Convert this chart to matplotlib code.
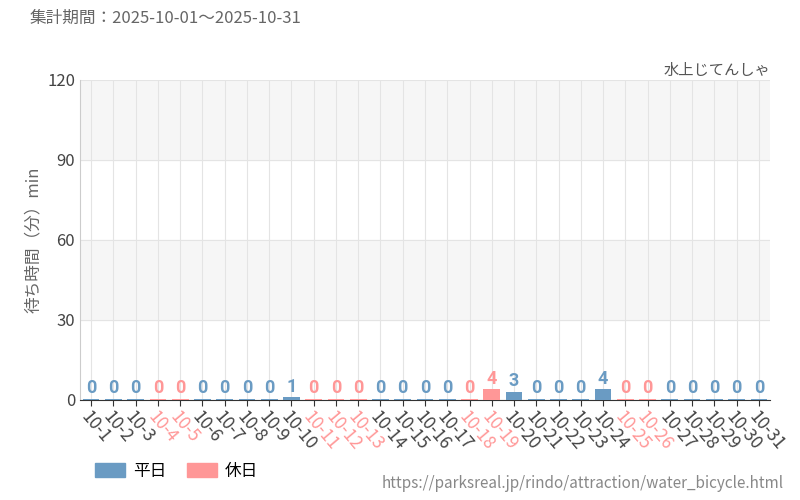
import matplotlib.pyplot as plt
from matplotlib.patches import Patch

plt.rcParams['font.family'] = ['Noto Sans CJK JP', 'DejaVu Sans']

days = [f"10-{d}" for d in range(1, 32)]
waits = [0] * 31
waits[9] = 1
waits[18] = 4
waits[19] = 3
waits[23] = 4
holidays = [4, 5, 11, 12, 13, 18, 19, 25, 26]

blue = '#6a9bc3'
pink = '#ff9797'
colors = [pink if i + 1 in holidays else blue for i in range(31)]

fig = plt.figure(figsize=(8, 5), dpi=100)
ax = fig.add_axes([0.1, 0.2, 0.8625, 0.64])

for lo in (30, 90):
    ax.axhspan(lo, lo + 30, color='#f6f6f6', zorder=0)

heights = [max(v, 0.4) for v in waits]
ax.bar(range(31), heights, width=0.75, color=colors, zorder=3)
for i, v in enumerate(waits):
    ax.text(i, heights[i] + 0.6, str(v), ha='center', va='bottom', color=colors[i],
            fontsize=13, fontweight='bold',
            fontfamily=['Liberation Sans Narrow', 'Roboto', 'DejaVu Sans'], zorder=4)

ax.set_xlim(-0.5, 30.5)
ax.set_ylim(0, 120)
ax.set_yticks([0, 30, 60, 90, 120])
ax.set_xticks(range(31))
ax.set_xticklabels(days, rotation=-50, ha='left', rotation_mode='anchor', fontsize=12.5)
for lbl, c in zip(ax.get_xticklabels(), colors):
    lbl.set_color('#444444' if c == blue else pink)
ax.tick_params(axis='y', labelsize=12, colors='#444444', length=0)
ax.tick_params(axis='x', length=4, color='#333333', pad=2)
ax.grid(True, color='#e4e4e4', linewidth=0.8, zorder=1)
for s in ('top', 'right'):
    ax.spines[s].set_visible(False)
ax.spines['left'].set_color('#cccccc')
ax.spines['bottom'].set_color('#333333')
ax.set_ylabel('待ち時間（分）min', fontsize=12, color='#666666')

fig.text(0.0375, 0.955, '集計期間：2025-10-01～2025-10-31', fontsize=12, color='#666666')
fig.text(0.9625, 0.85, '水上じてんしゃ', fontsize=11, color='#555555', ha='right')
fig.text(0.98, 0.025, 'https://parksreal.jp/rindo/attraction/water_bicycle.html',
         fontsize=11, color='#888888', ha='right')
fig.legend(handles=[Patch(color=blue, label='平日'), Patch(color=pink, label='休日')],
           loc='lower left', bbox_to_anchor=(0.1, 0.01), ncol=2, frameon=False,
           fontsize=12, handlelength=1.8, handleheight=0.9, handletextpad=0.5,
           columnspacing=1.2)

fig.savefig('out.png')
